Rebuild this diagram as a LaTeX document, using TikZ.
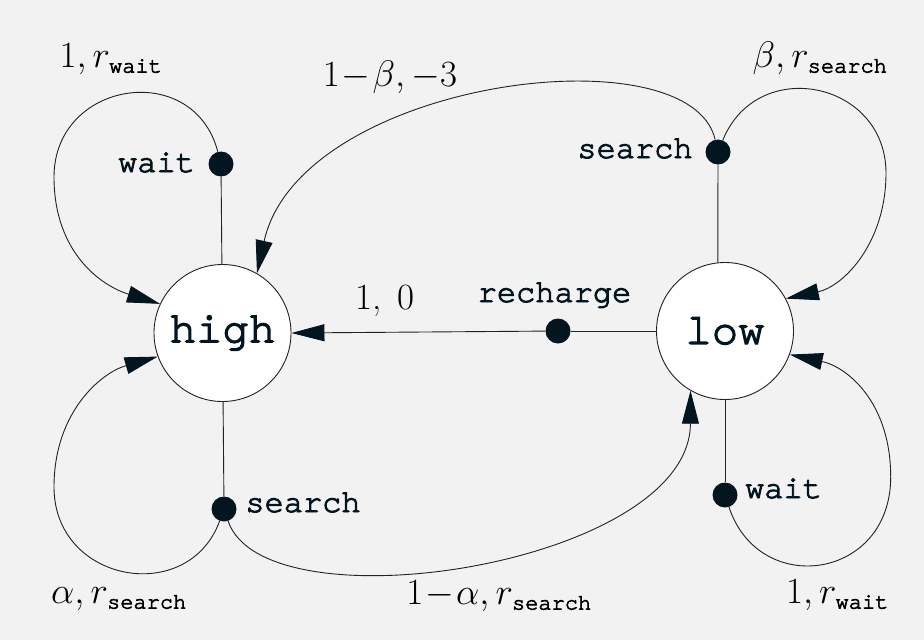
\RequirePackage{fix-cm}
\documentclass[tikz,border=0pt]{standalone}
\usepackage{fontspec}
\newfontfamily\courfam[FakeBold=3]{texgyrecursor-regular.otf}
\usetikzlibrary{arrows.meta}
\definecolor{bg}{HTML}{F2F2F2}
\definecolor{ink}{HTML}{03151F}
\definecolor{edgec}{HTML}{222222}
\newcommand{\cour}{\courfam}
\newcommand{\ttsub}[1]{\hbox{\fontsize{22}{22}\cour #1}}
\begin{document}
\begin{tikzpicture}[x=1pt,y=-1pt,
  state/.style={circle, draw=edgec, fill=white, line width=0.9pt, minimum size=137pt, inner sep=0pt,
    font=\fontsize{44}{44}\cour, text=ink},
  act/.style={circle, fill=ink, minimum size=25pt, inner sep=0pt},
  albl/.style={anchor=base, inner sep=0pt, font=\fontsize{32}{32}\cour, text=ink},
  mlbl/.style={anchor=base, inner sep=0pt, font=\fontsize{37}{37}\selectfont, text=black},
  link/.style={draw=edgec, line width=0.9pt},
  arr/.style={link, -{Triangle[length=33pt,width=17pt,color=ink]}}]
\fill[bg] (0,0) rectangle (924,640);
\useasboundingbox (0,0) rectangle (924,640);
\node[state] (high) at (222.5,333) {high};
\node[state] (low) at (725,331) {low};
\node[act] (hw) at (221,164) {};
\node[act] (hs) at (224,509) {};
\node[act] (rc) at (558,331) {};
\node[act] (ls) at (718,152) {};
\node[act] (lw) at (725,495) {};
\draw[link] (high) -- (hw);
\draw[link] (high) -- (hs);
\draw[link] (low) -- (rc);
\draw[link] (low.96) -- (ls);
\draw[link] (low) -- (lw);
\draw[arr] (rc) -- (high.east);
% self loops
\draw[arr] (hw) .. controls (193.7,59) and (54,80.5) .. (54,177)
               .. controls (54,252) and (100.6,285.6) .. (high.155);
\draw[arr] (hs) .. controls (188.5,606.6) and (54,583) .. (54,487)
               .. controls (54,412) and (101.2,372.7) .. (high.200);
\draw[arr] (ls) .. controls (757.4,54.9) and (886,81.2) .. (886,173)
               .. controls (886,243) and (843.6,286.4) .. (low.28);
\draw[arr] (lw) .. controls (759.1,598.3) and (890.7,580) .. (890.7,477)
               .. controls (890.7,402) and (846.9,366.8) .. (low.340);
% cross transitions
\draw[arr] (hs) .. controls (265,630) and (690,565) .. (low.240);
\draw[arr] (ls) .. controls (690,30) and (300,80) .. (high.60);
% labels
\node[mlbl] (l1) at (111,67) {$1,r_{\ttsub{wait}}$};
\node[albl] (t1) at (156.5,172) {wait};
\node[mlbl] (l2) at (390,86) {$1\mkern1mu{-}\mkern1mu\beta,-3$};
\node[albl] (t2) at (635,158) {search};
\node[mlbl] (l3) at (820,67) {$\beta,r_{\ttsub{search}}$};
\node[mlbl] (l4) at (385,309) {1,\hspace{16pt}0};
\node[albl] (t3) at (554.5,302) {recharge};
\node[albl] (t4) at (303,512) {search};
\node[mlbl] (l5) at (119,603) {$\alpha,r_{\ttsub{search}}$};
\node[mlbl] (l6) at (499,604) {$1\mkern1mu{-}\mkern1mu\alpha,r_{\ttsub{search}}$};
\node[albl] (t5) at (783.5,498) {wait};
\node[mlbl] (l7) at (837.5,603) {$1,r_{\ttsub{wait}}$};
\end{tikzpicture}
\end{document}
